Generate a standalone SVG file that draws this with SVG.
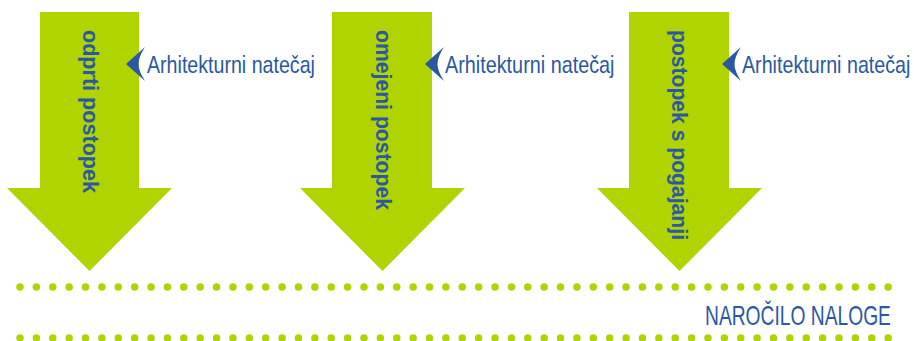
<svg xmlns="http://www.w3.org/2000/svg" width="914" height="341" viewBox="0 0 914 341">
<style>
.arrow{fill:#afd400}
.vlab{font-family:"Liberation Sans",Arial,sans-serif;font-weight:bold;font-size:22px;fill:#2b58a3}
.clab{font-family:"Liberation Sans",Arial,sans-serif;font-size:24px;fill:#2b58a3}
.chev{fill:#2b58a3}
.dots{stroke:#afd400;stroke-width:7.5;stroke-linecap:round;stroke-dasharray:0 16.38;fill:none}
.foot{font-family:"Liberation Sans",Arial,sans-serif;font-size:28px;fill:#2b58a3}
</style>
<defs>
<path id="chev" d="M19,0 L0,17 L19,34 Q12.5,24 12.5,17 Q12.5,10 19,0 Z"/>
</defs>
<g id="arrow1">
<polygon class="arrow" points="40,12 139,12 139,188 172,188 89.5,271 7,188 40,188"/>
<text class="vlab" transform="translate(83,30) rotate(90)" textLength="163" lengthAdjust="spacingAndGlyphs">odprti postopek</text>
</g>
<g id="arrow2">
<polygon class="arrow" points="332,12 432,12 432,188 465,188 382.5,271 300,188 332,188"/>
<text class="vlab" transform="translate(376,30) rotate(90)" textLength="180" lengthAdjust="spacingAndGlyphs">omejeni postopek</text>
</g>
<g id="arrow3">
<polygon class="arrow" points="629,12 729,12 729,188 762,188 679.5,271 597,188 629,188"/>
<text class="vlab" transform="translate(672,30) rotate(90)" textLength="210" lengthAdjust="spacingAndGlyphs">postopek s pogajanji</text>
</g>
<g id="callout1">
<use href="#chev" class="chev" x="126" y="47"/>
<text class="clab" transform="translate(147,72.5) scale(0.818,1)">Arhitekturni natečaj</text>
</g>
<g id="callout2">
<use href="#chev" class="chev" x="425" y="47"/>
<text class="clab" transform="translate(445,72.5) scale(0.825,1)">Arhitekturni natečaj</text>
</g>
<g id="callout3">
<use href="#chev" class="chev" x="722" y="47"/>
<text class="clab" transform="translate(742,72.5) scale(0.82,1)">Arhitekturni natečaj</text>
</g>
<g id="connectors">
<line class="dots" x1="20" y1="287" x2="889" y2="287"/>
<line class="dots" x1="20" y1="338" x2="889" y2="338"/>
</g>
<g id="footer">
<text class="foot" transform="translate(705,324.5) scale(0.687,1)">NAROČILO NALOGE</text>
</g>
</svg>
